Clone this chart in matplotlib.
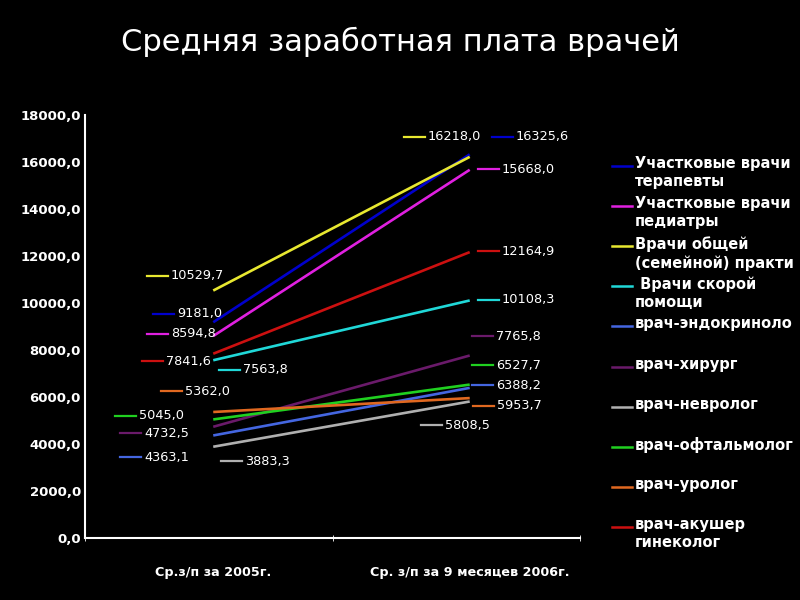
import matplotlib
matplotlib.use('Agg')
import matplotlib.pyplot as plt
from matplotlib.lines import Line2D
from matplotlib.ticker import FuncFormatter

# data
categories = ['Ср.з/п за 2005г.', 'Ср. з/п за 9 месяцев 2006г.']
names = ['Участковые врачи\nтерапевты', 'Участковые врачи\nпедиатры',
         'Врачи общей\n(семейной) практи', ' Врачи скорой\nпомощи',
         'врач-эндокриноло', 'врач-хирург', 'врач-невролог',
         'врач-офтальмолог', 'врач-уролог', 'врач-акушер\nгинеколог']
v2005 = [9181.0, 8594.8, 10529.7, 7563.8, 4363.1, 4732.5, 3883.3, 5045.0, 5362.0, 7841.6]
v2006 = [16325.6, 15668.0, 16218.0, 10108.3, 6388.2, 7765.8, 5808.5, 6527.7, 5953.7, 12164.9]
colors = ['#0000cc', '#e020e0', '#e8e830', '#20d8d8', '#4466e0',
          '#6a1a6a', '#b0b0b0', '#20d020', '#e06820', '#cc1010']

# layout of the value labels (pixel: key-line start x, centre y)
lab05 = [(153, 314), (147, 334), (147, 276), (219, 370), (120, 457),
         (120, 433), (221, 461), (115, 416), (161, 391), (142, 361)]
lab06 = [(492, 137), (478, 169), (404, 137), (478, 300), (472, 385),
         (472, 336), (421, 425), (472, 365), (473, 406), (478, 251)]

W, H = 800, 600
fig = plt.figure(figsize=(8, 6), dpi=100, facecolor='black')
ax = fig.add_axes([85 / W, 1 - 538 / H, 495 / W, (538 - 115) / H])
ax.set_facecolor('black')

for i in range(len(names)):
    ax.plot([0, 1], [v2005[i], v2006[i]], color=colors[i], lw=1.9,
            solid_capstyle='butt')

ax.set_xlim(-0.5, 1.43)
ax.set_ylim(0, 18000)
ax.set_yticks(range(0, 18001, 2000))
ax.yaxis.set_major_formatter(FuncFormatter(lambda v, p: f'{v:.1f}'.replace('.', ',')))
ax.set_xticks([0, 1])
ax.set_xticklabels(categories)
ax.set_xticks([-0.5, 0.465, 1.43], minor=True)
ax.tick_params(axis='x', which='major', length=0, pad=20, colors='white',
               labelsize=9.2)
ax.tick_params(axis='x', which='minor', length=4, direction='inout', color='white')
ax.tick_params(axis='y', length=0, colors='white', labelsize=9.5, pad=3)
for lbl in ax.get_xticklabels() + ax.get_yticklabels():
    lbl.set_fontweight('bold')
for side in ['top', 'right']:
    ax.spines[side].set_visible(False)
for side in ['left', 'bottom']:
    ax.spines[side].set_color('white')
    ax.spines[side].set_linewidth(1.5)


def value_label(x, y, color, value):
    fig.add_artist(Line2D([x / W, (x + 21) / W], [1 - y / H, 1 - y / H],
                          color=color, lw=1.6, transform=fig.transFigure))
    fig.text((x + 24) / W, 1 - y / H, f'{value:.1f}'.replace('.', ','),
             color='white', fontsize=9.3, va='center', ha='left')


for i in range(len(names)):
    value_label(lab05[i][0], lab05[i][1], colors[i], v2005[i])
    value_label(lab06[i][0], lab06[i][1], colors[i], v2006[i])

# legend drawn by hand
for i, name in enumerate(names):
    y = 166 + 40.1 * i
    fig.add_artist(Line2D([612 / W, 632 / W], [1 - y / H, 1 - y / H],
                          color=colors[i], lw=1.8, transform=fig.transFigure))
    fig.text(635 / W, 1 - (y - 10) / H, name, color='white', fontsize=10.5,
             fontweight='bold', va='top', ha='left', linespacing=1.25)

fig.text(0.5, 1 - 42 / H, 'Средняя заработная плата врачей', color='white',
         fontsize=22, ha='center', va='center')

fig.savefig('out.png', dpi=100, facecolor='black')
